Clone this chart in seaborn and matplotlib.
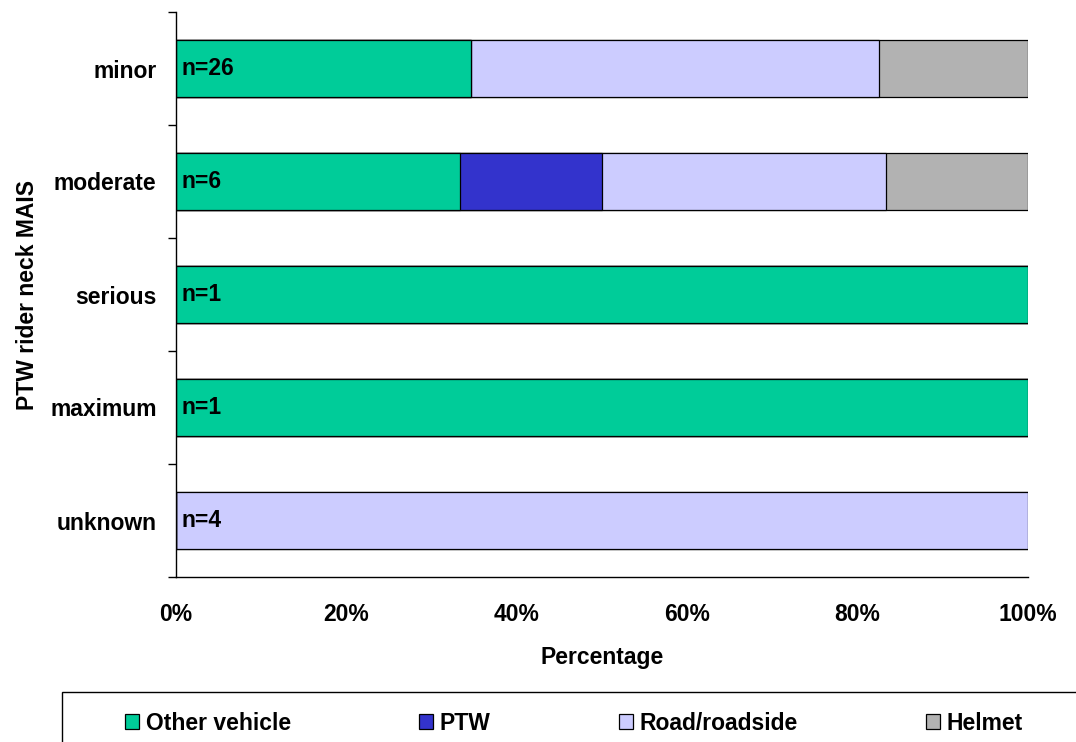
import numpy as np
import pandas as pd
import matplotlib.pyplot as plt
import seaborn as sns
from matplotlib.patches import Patch, Rectangle

# data (percent of cases per MAIS level)
categories = ['minor', 'moderate', 'serious', 'maximum', 'unknown']
n_counts = [26, 6, 1, 1, 4]
other_vehicle = [34.6, 33.3, 100, 100, 0]
ptw = [0, 16.7, 0, 0, 0]
road_roadside = [47.9, 33.3, 0, 0, 100]
helmet = [17.5, 16.7, 0, 0, 0]
series_names = ['Other vehicle', 'PTW', 'Road/roadside', 'Helmet']
colors = ['#00CC99', '#3333CC', '#CCCCFF', '#B2B2B2']

FS = 16.5

sns.set_theme(style='white')
plt.rcParams['font.family'] = ['Liberation Sans', 'DejaVu Sans']
plt.rcParams['font.weight'] = 'bold'
plt.rcParams['axes.labelweight'] = 'bold'
plt.rcParams['text.color'] = 'black'
plt.rcParams['axes.labelcolor'] = 'black'
plt.rcParams['xtick.color'] = 'black'
plt.rcParams['ytick.color'] = 'black'

df = pd.DataFrame({'MAIS': categories,
                   'Other vehicle': other_vehicle,
                   'PTW': ptw,
                   'Road/roadside': road_roadside,
                   'Helmet': helmet})
cum = df[series_names].cumsum(axis=1)

W, H = 1076, 742
fig = plt.figure(figsize=(W / 100, H / 100), dpi=100)
ax = fig.add_axes([176 / W, 1 - 577 / H, 852 / W, 565 / H])

# stacked bars: draw cumulative totals from the last series back to the first
for name, color in reversed(list(zip(series_names, colors))):
    sns.barplot(x=cum[name], y=df['MAIS'], color=color, orient='h',
                width=0.5, saturation=1, edgecolor='black', linewidth=0.9,
                ax=ax)

for i, n in enumerate(n_counts):
    ax.text(0.7, i, f'n={n}', va='center', ha='left', fontsize=FS,
            fontweight='bold', color='black')

ax.set_xlim(0, 100)
ax.set_ylim(4.5, -0.5)
ax.set_xticks(range(0, 101, 20))
ax.set_xticklabels([f'{v}%' for v in range(0, 101, 20)])
ax.set_yticks(range(5))
ax.set_yticklabels(categories)
ax.set_yticks(np.arange(-0.5, 5, 1), minor=True)
ax.tick_params(axis='x', which='major', direction='out', length=5, width=1,
               pad=14, labelsize=FS)
ax.tick_params(axis='y', which='major', length=0, pad=14, labelsize=FS)
ax.tick_params(axis='y', which='minor', direction='out', length=6, width=1,
               left=True)
ax.set_xlabel('Percentage', fontsize=FS, fontweight='bold', labelpad=14)
ax.set_ylabel('PTW rider neck MAIS', fontsize=FS, fontweight='bold', labelpad=8)
sns.despine(ax=ax)
for side in ['left', 'bottom']:
    ax.spines[side].set_color('black')
    ax.spines[side].set_linewidth(1)

# legend box at the bottom, running off the right/bottom edge like the original
fig.patches.append(Rectangle((62 / W, -0.02), 1.0, (H - 692) / H + 0.02,
                             transform=fig.transFigure, fill=False,
                             edgecolor='black', linewidth=1))
handles = [Patch(facecolor=c, edgecolor='black', linewidth=0.9, label=s)
           for s, c in zip(series_names, colors)]
fig.legend(handles=handles, loc='center left', ncol=4, frameon=False,
           bbox_to_anchor=(118 / W, 1 - 723 / H),
           handlelength=0.6, handleheight=0.6, handletextpad=0.3,
           columnspacing=5.6, borderaxespad=0, borderpad=0.3,
           prop={'weight': 'bold', 'size': FS})

fig.savefig('out.png', dpi=100)
